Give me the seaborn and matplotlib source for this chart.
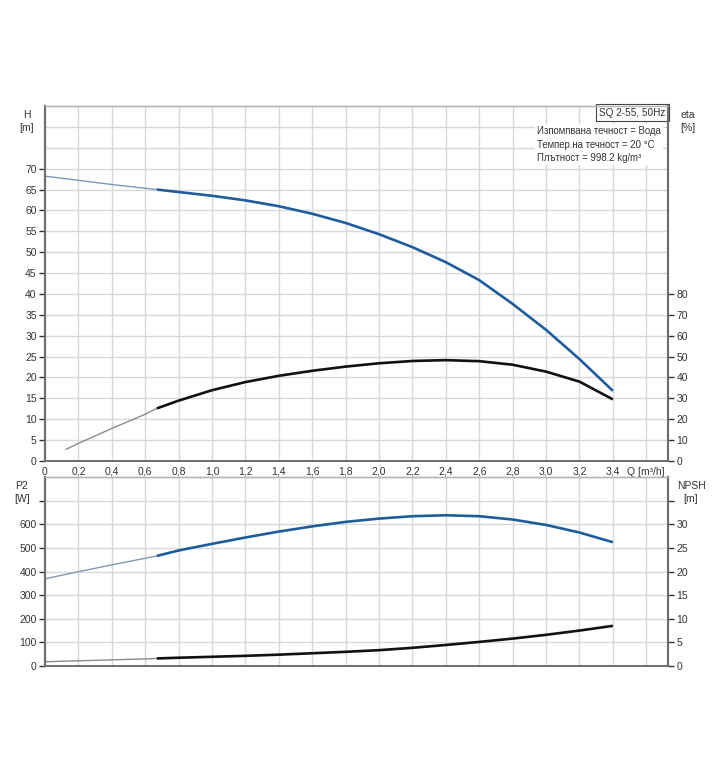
import numpy as np
import pandas as pd
import matplotlib
matplotlib.use("Agg")
import matplotlib.pyplot as plt
import seaborn as sns

# ---------------- data ----------------
q_h = [0, 0.2, 0.4, 0.6, 0.67, 0.8, 1.0, 1.2, 1.4, 1.6, 1.8, 2.0, 2.2, 2.4, 2.6, 2.8, 3.0, 3.2, 3.4]
h_m = [68.2, 67.2, 66.2, 65.3, 65.0, 64.4, 63.5, 62.4, 61.0, 59.2, 57.0, 54.3, 51.2, 47.6, 43.3, 37.6, 31.4, 24.4, 16.8]

q_eta = [0.126, 0.2, 0.4, 0.6, 0.67, 0.8, 1.0, 1.2, 1.4, 1.6, 1.8, 2.0, 2.2, 2.4, 2.6, 2.8, 3.0, 3.2, 3.4]
eta_pct = [5.6, 8.4, 15.6, 22.4, 25.2, 28.9, 33.9, 37.8, 40.8, 43.2, 45.2, 46.8, 47.9, 48.3, 47.8, 46.1, 42.8, 38.0, 29.5]

q_p2 = [0, 0.2, 0.4, 0.6, 0.67, 0.8, 1.0, 1.2, 1.4, 1.6, 1.8, 2.0, 2.2, 2.4, 2.6, 2.8, 3.0, 3.2, 3.4]
p2_w = [369, 399, 428, 456, 466, 489, 517, 544, 569, 591, 610, 624, 634, 638, 634, 620, 597, 565, 524]

q_npsh = [0, 0.2, 0.4, 0.6, 0.67, 0.8, 1.0, 1.2, 1.4, 1.6, 1.8, 2.0, 2.2, 2.4, 2.6, 2.8, 3.0, 3.2, 3.4]
npsh_m = [0.9, 1.1, 1.3, 1.5, 1.6, 1.75, 1.95, 2.15, 2.4, 2.7, 3.0, 3.35, 3.85, 4.45, 5.1, 5.8, 6.6, 7.5, 8.5]

duty_start = 0.67  # start of the bold (operating) part of each curve

x_ticks = [0, 0.2, 0.4, 0.6, 0.8, 1.0, 1.2, 1.4, 1.6, 1.8, 2.0, 2.2, 2.4, 2.6, 2.8, 3.0, 3.2, 3.4, 3.6]
x_labels = ["0", "0,2", "0,4", "0,6", "0,8", "1,0", "1,2", "1,4", "1,6", "1,8", "2,0",
            "2,2", "2,4", "2,6", "2,8", "3,0", "3,2", "3,4", "Q [m³/h]"]
h_ticks = [0, 5, 10, 15, 20, 25, 30, 35, 40, 45, 50, 55, 60, 65, 70]
h_extra_grid = [75, 80]
eta_ticks = [0, 10, 20, 30, 40, 50, 60, 70, 80]
p2_ticks = [0, 100, 200, 300, 400, 500, 600, 700]
p2_labels = ["0", "100", "200", "300", "400", "500", "600", ""]
npsh_ticks = [0, 5, 10, 15, 20, 25, 30, 35]
npsh_labels = ["0", "5", "10", "15", "20", "25", "30", ""]

info_title = "SQ 2-55, 50Hz"
info_lines = ["Изпомпвана течност = Вода", "Темпер.на течност = 20 °C", "Плътност = 998.2 kg/m³"]

# ---------------- style ----------------
sns.set_style("white")
plt.rcParams['font.family'] = ['Liberation Sans', 'DejaVu Sans']

BLUE = "#1f5c9e"
BLUE_THIN = "#7d98b8"
BLACK = "#111111"
GREY_THIN = "#8a8a8a"
GRID = "#d8d8d8"
SPINE = "#6e6e6e"
TXT = "#333333"
FS = 7.5

fig = plt.figure(figsize=(7.2, 7.8), dpi=100)
L, W = 45 / 720, (668 - 45) / 720
ax1 = fig.add_axes([L, 1 - 461 / 780, W, (461 - 106) / 780])
ax2 = fig.add_axes([L, 1 - 666 / 780, W, (666 - 477) / 780])
ax1r = ax1.twinx()
ax2r = ax2.twinx()


def draw(ax, q, v, color_thin, color_thick):
    df = pd.DataFrame({"q": q, "v": v})
    thin = df[df.q <= duty_start + 1e-9]
    thick = df[df.q >= duty_start - 1e-9]
    sns.lineplot(data=thin, x="q", y="v", ax=ax, color=color_thin, lw=1.0, sort=False)
    sns.lineplot(data=thick, x="q", y="v", ax=ax, color=color_thick, lw=1.9, sort=False,
                 solid_capstyle="butt", solid_joinstyle="round")


for ax in (ax1, ax2):
    ax.set_xlim(0, 3.73)
    ax.set_xticks(x_ticks)
    ax.grid(True, color=GRID, lw=1.0)
    ax.set_axisbelow(True)

ax1.set_ylim(0, 85)
ax1.set_yticks(h_ticks)
ax1.set_yticks(h_extra_grid, minor=True)
ax1.grid(True, which="minor", axis="y", color=GRID, lw=1.0)
ax1.tick_params(axis="y", which="minor", length=0)
ax1.set_xticklabels(x_labels)
ax1r.set_ylim(0, 170)
ax1r.set_yticks(eta_ticks)

ax2.set_ylim(0, 800)
ax2.set_yticks(p2_ticks)
ax2.set_yticklabels(p2_labels)
ax2.set_xticklabels([])
ax2r.set_ylim(0, 40)
ax2r.set_yticks(npsh_ticks)
ax2r.set_yticklabels(npsh_labels)

draw(ax1, q_h, h_m, BLUE_THIN, BLUE)
draw(ax1r, q_eta, eta_pct, GREY_THIN, BLACK)
draw(ax2, q_p2, p2_w, BLUE_THIN, BLUE)
draw(ax2r, q_npsh, npsh_m, GREY_THIN, BLACK)

for ax in (ax1, ax2, ax1r, ax2r):
    ax.set_xlabel("")
    ax.set_ylabel("")
    for s in ax.spines.values():
        s.set_color("#b5b5b5")
        s.set_linewidth(1.0)
    ax.spines["left"].set_color(SPINE)
    ax.spines["left"].set_linewidth(1.5)
    ax.spines["right"].set_color(SPINE)
    ax.spines["right"].set_linewidth(1.5)
    ax.spines["bottom"].set_color(SPINE)
    ax.spines["bottom"].set_linewidth(1.2)
    ax.tick_params(axis="y", labelsize=FS, colors=TXT, length=4, width=1, direction="out", pad=2)
    ax.tick_params(axis="x", labelsize=FS, colors=TXT, length=0, pad=4)

ax1r.grid(False)
ax2r.grid(False)

# axis titles
fig.text(27 / 720, 1 - 110 / 780, "H\n[m]", fontsize=FS, color=TXT, ha="center", va="top", linespacing=1.4)
fig.text(688 / 720, 1 - 110 / 780, "eta\n[%]", fontsize=FS, color=TXT, ha="center", va="top", linespacing=1.4)
fig.text(22 / 720, 1 - 481 / 780, "P2\n[W]", fontsize=FS, color=TXT, ha="center", va="top", linespacing=1.4)
fig.text(691 / 720, 1 - 481 / 780, "NPSH\n[m]", fontsize=FS, color=TXT, ha="center", va="top", linespacing=1.4)

# info box
ax1.text(0.996, 0.995, info_title, transform=ax1.transAxes, ha="right", va="top",
         fontsize=7.2, color=TXT, zorder=10,
         bbox=dict(boxstyle="square,pad=0.35", fc="white", ec="#444444", lw=0.8))
ax1.text((537 - 45) / 623, 1 - (126 - 106) / 355, "\n".join(info_lines), transform=ax1.transAxes,
         ha="left", va="top", fontsize=6.9, color=TXT, linespacing=1.45, zorder=10,
         bbox=dict(boxstyle="square,pad=0.2", fc="white", ec="none"))

fig.savefig("out.png", dpi=100)
